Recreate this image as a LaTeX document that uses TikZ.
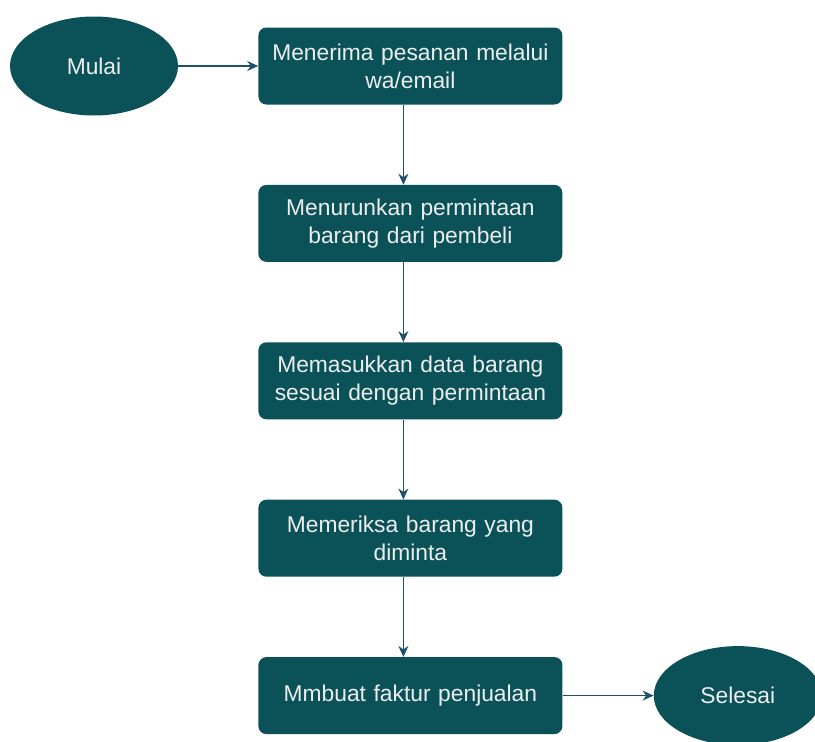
\documentclass[tikz,border=0pt]{standalone}
\usepackage{fontspec}
\setmainfont{Liberation Sans}
\usetikzlibrary{shapes.geometric,arrows.meta,positioning}
\definecolor{flowteal}{RGB}{11,82,88}
\definecolor{flowline}{RGB}{30,80,108}
\definecolor{flowtext}{RGB}{236,238,238}

\begin{document}
\begin{tikzpicture}[
    x=1pt, y=1pt,
    procbox/.style={rectangle, fill=flowteal, text=flowtext,
        minimum width=304pt, minimum height=77pt, text width=296pt,
        inner sep=4pt, align=center, rounded corners=8pt,
        font=\fontsize{22.8}{28}\selectfont},
    terminal/.style={ellipse, fill=flowteal, text=flowtext,
        minimum width=168pt, minimum height=99pt,
        font=\fontsize{22.8}{28}\selectfont},
    flow/.style={-{Stealth[length=11pt,width=10pt]}, draw=flowline, line width=1.3pt}
]
\useasboundingbox (0,0) rectangle (815,-742);

\node[terminal] (mulai) at (94,-66) {Mulai};
\node[procbox, right=80pt of mulai] (terima) {Menerima pesanan melalui\\wa/email};
\node[procbox, below=80pt of terima] (turun) {Menurunkan permintaan\\barang dari pembeli};
\node[procbox, below=80pt of turun] (masuk) {Memasukkan data barang\\sesuai dengan permintaan};
\node[procbox, below=80pt of masuk] (periksa) {Memeriksa barang yang\\diminta};
\node[procbox, below=80pt of periksa] (faktur) {Mmbuat faktur penjualan};
\node[terminal, right=91pt of faktur] (selesai) {Selesai};

\draw[flow] (mulai.east) -- (terima.west);
\draw[flow] ([xshift=-7pt]terima.south) -- ([xshift=-7pt]turun.north);
\draw[flow] ([xshift=-7pt]turun.south) -- ([xshift=-7pt]masuk.north);
\draw[flow] ([xshift=-7pt]masuk.south) -- ([xshift=-7pt]periksa.north);
\draw[flow] ([xshift=-7pt]periksa.south) -- ([xshift=-7pt]faktur.north);
\draw[flow] (faktur.east) -- (selesai.west);
\end{tikzpicture}
\end{document}
